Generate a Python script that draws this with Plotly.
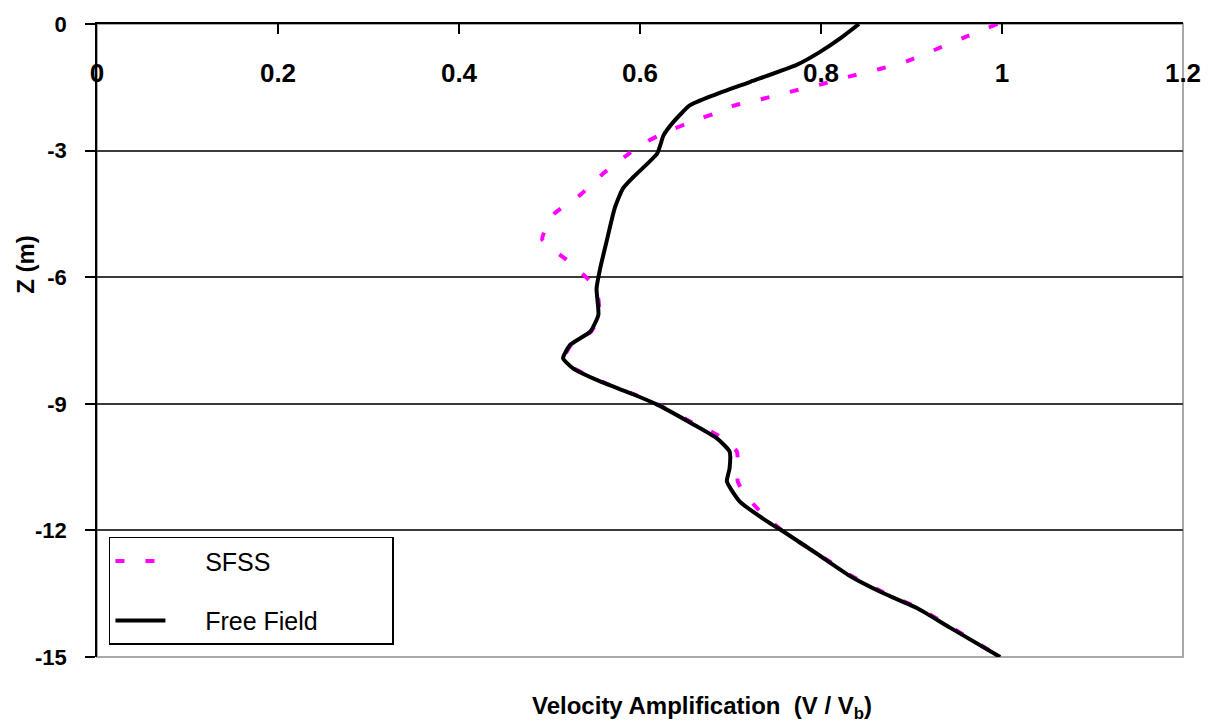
import plotly.graph_objects as go

# Free Field profile
ff_z = [0.0, -0.33, -0.66, -0.97, -1.37, -1.69, -1.93, -2.32, -2.64, -3.07, -3.62, -3.90, -4.37,
        -5.16, -5.79, -6.27, -6.89, -7.29, -7.60, -7.92, -8.16, -8.47, -8.78, -9.02, -9.49,
        -9.82, -10.13, -10.53, -10.84, -11.31, -11.78, -12.02, -12.56, -13.08, -13.49, -13.84,
        -14.31, -15.0]
ff_v = [0.842, 0.822, 0.799, 0.773, 0.722, 0.681, 0.655, 0.637, 0.626, 0.619, 0.593, 0.581, 0.572,
        0.563, 0.556, 0.552, 0.554, 0.545, 0.523, 0.515, 0.526, 0.556, 0.593, 0.619, 0.659,
        0.685, 0.699, 0.699, 0.696, 0.710, 0.740, 0.758, 0.796, 0.832, 0.869, 0.906,
        0.943, 0.998]

# SFSS profile
sf_z = [0.0, -0.33, -0.61, -0.88, -1.06, -1.23, -1.42, -1.59, -1.77, -1.94, -2.08, -2.30, -2.55,
        -2.87, -3.10, -3.55, -4.05, -4.52, -5.11, -5.59, -6.10, -6.40, -6.89, -7.29, -7.60,
        -7.92, -8.16, -8.47, -8.78, -9.02, -9.49, -9.73, -10.13, -10.53, -10.84, -11.15,
        -11.62, -12.09, -12.56, -13.08, -13.49, -13.84, -14.31, -15.0]
sf_v = [0.995, 0.957, 0.926, 0.895, 0.866, 0.834, 0.802, 0.769, 0.736, 0.703, 0.688, 0.659, 0.630,
        0.600, 0.586, 0.559, 0.534, 0.504, 0.492, 0.519, 0.545, 0.553, 0.555, 0.546, 0.524,
        0.516, 0.527, 0.557, 0.594, 0.620, 0.662, 0.685, 0.707, 0.708, 0.708, 0.716,
        0.736, 0.762, 0.797, 0.834, 0.871, 0.908, 0.945, 0.998]

series_names = ["SFSS", "Free Field"]

x_ticks = [0, 0.2, 0.4, 0.6, 0.8, 1, 1.2]
x_labels = ["0", "0.2", "0.4", "0.6", "0.8", "1", "1.2"]
y_ticks = [0, -3, -6, -9, -12, -15]
y_labels = ["0", "-3", "-6", "-9", "-12", "-15"]

FONT = "Liberation Sans, Arial, sans-serif"
PAD_L = "\u00a0" * 5
PAD_R = "\u00a0" * 10

fig = go.Figure()
fig.add_trace(go.Scatter(
    x=sf_v, y=sf_z, mode="lines", name=PAD_L + series_names[0] + PAD_R, legendgroup="a",
    line=dict(color="#FF00FF", width=4, dash="9px,21px", shape="spline", smoothing=0.5),
))
fig.add_trace(go.Scatter(
    x=ff_v, y=ff_z, mode="lines", name=PAD_L + series_names[1] + PAD_R, legendgroup="b",
    line=dict(color="#000000", width=4, shape="spline", smoothing=0.5),
))

fig.update_layout(
    width=1215, height=726,
    margin=dict(l=97, r=32, t=22, b=69),
    paper_bgcolor="white", plot_bgcolor="white",
    font=dict(family=FONT, color="black"),
    showlegend=True,
    legend=dict(
        x=0.011, y=0.19, xanchor="left", yanchor="top",
        bgcolor="white", bordercolor="black", borderwidth=1.5,
        font=dict(size=25, family=FONT, color="black"),
        itemwidth=50, tracegroupgap=24, traceorder="grouped",
    ),
    xaxis=dict(
        range=[0, 1.2], side="top", tickvals=x_ticks, ticktext=x_labels,
        ticks="inside", ticklen=10, tickcolor="black", tickwidth=1.5,
        ticklabelposition="inside", ticklabeloverflow="allow", ticklabelstandoff=32,
        tickfont=dict(size=26, family=FONT, color="black", weight="bold"),
        showline=True, linecolor="black", linewidth=1.5, mirror=False,
        showgrid=False, zeroline=False,
    ),
    yaxis=dict(
        range=[-15, 0], tickvals=y_ticks, ticktext=y_labels,
        ticks="outside", ticklen=10, tickcolor="black", tickwidth=1.5,
        ticklabelstandoff=14,
        tickfont=dict(size=22, family=FONT, color="black", weight="bold"),
        showline=True, linecolor="black", linewidth=1.5, mirror=False,
        showgrid=True, gridcolor="#3a3a3a", gridwidth=1.5, zeroline=False,
    ),
    shapes=[dict(type="rect", xref="paper", yref="paper", x0=0, x1=1, y0=0, y1=1,
                 line=dict(color="#a8a8a8", width=2), layer="below")],
    annotations=[
        dict(text="Velocity Amplification  (V / V<sub>b</sub>)", xref="paper", yref="paper",
             x=0.557, y=-0.079, xanchor="center", yanchor="middle", showarrow=False,
             font=dict(size=24, family=FONT, color="black", weight="bold")),
        dict(text="Z (m)", xref="paper", yref="paper", textangle=-90,
             x=-0.066, y=0.62, xanchor="center", yanchor="middle", showarrow=False,
             font=dict(size=24, family=FONT, color="black", weight="bold")),
    ],
)

fig.write_html("out.html")
